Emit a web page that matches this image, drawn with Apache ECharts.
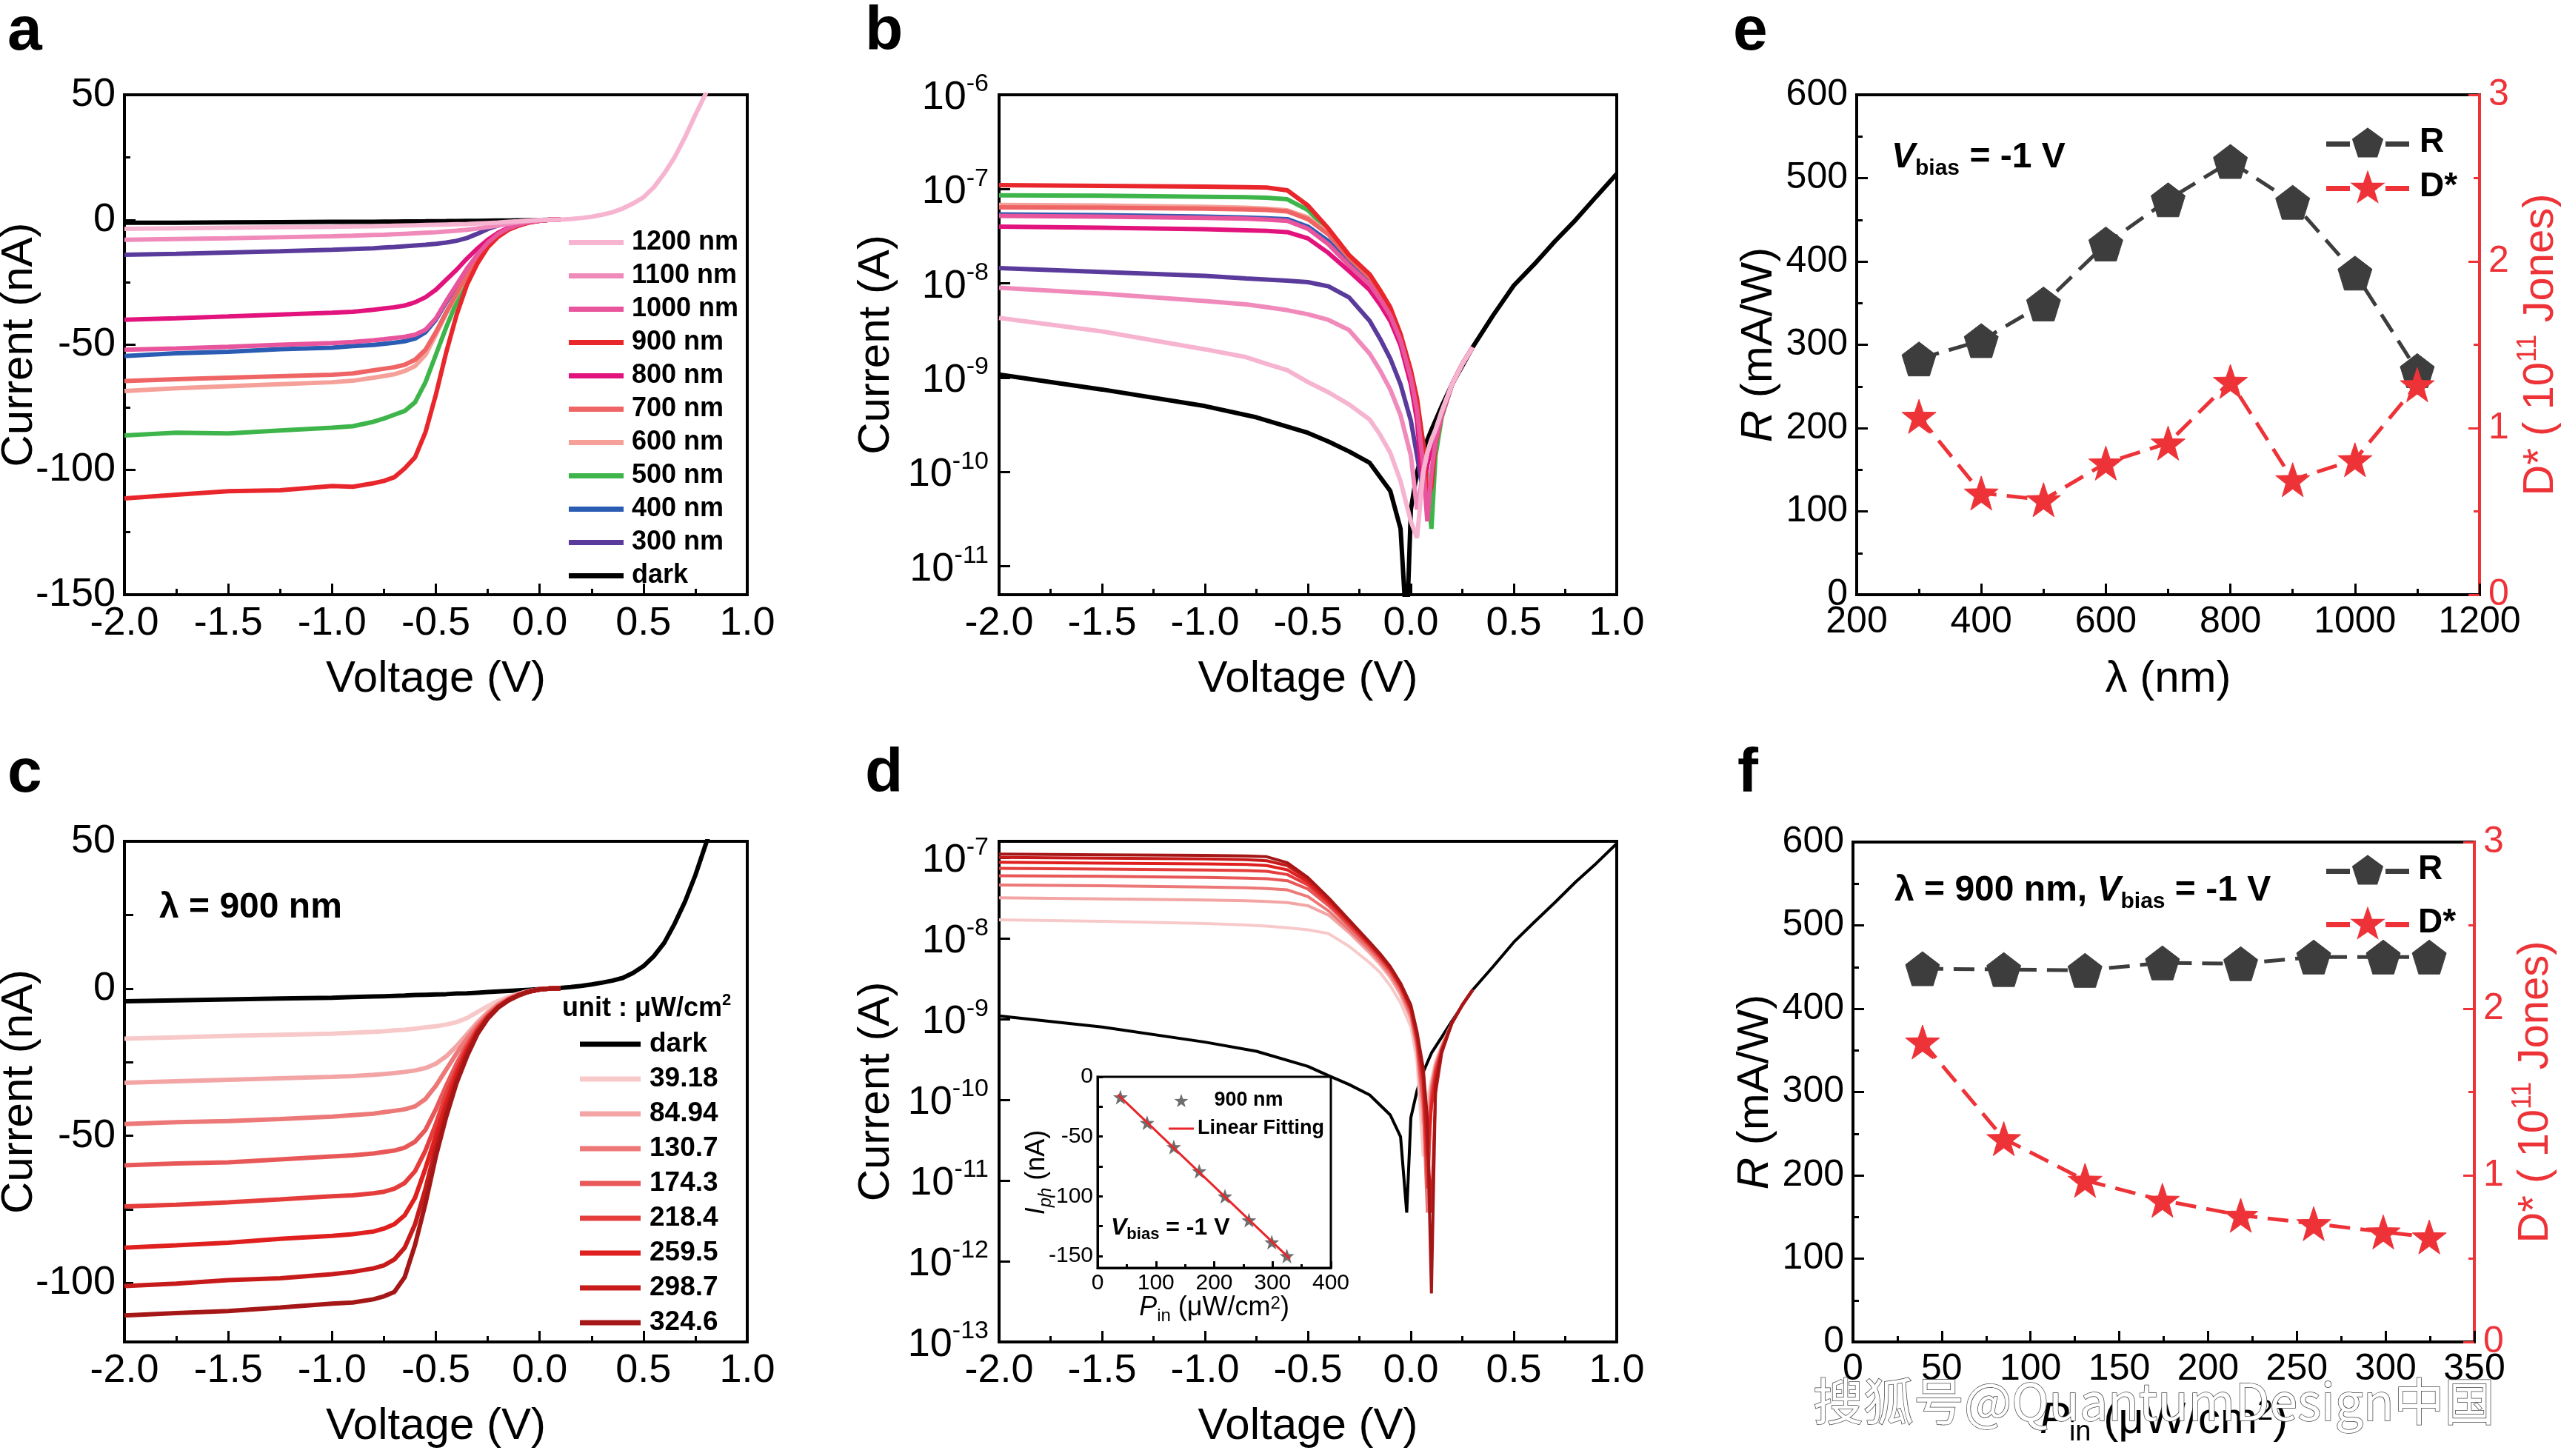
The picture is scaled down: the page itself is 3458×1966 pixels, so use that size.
<!DOCTYPE html>
<html>
<head>
<meta charset="utf-8">
<title>I-V curves, responsivity and detectivity</title>
<script src="https://cdn.jsdelivr.net/npm/echarts@6/dist/echarts.min.js"></script>
<style>
  html, body { margin: 0; padding: 0; background: #fff; }
  #main { width: 3458px; height: 1966px; }
</style>
</head>
<body>
<div id="main"></div>
<script>
// ---------- data ----------
// voltage grids (V)
const voltsA = [-2, -1.75, -1.5, -1.25, -1, -0.9, -0.8, -0.75, -0.7, -0.65, -0.6, -0.55, -0.5, -0.45, -0.4, -0.35, -0.3, -0.25, -0.2, -0.15, -0.1, -0.05, 0, 0.05, 0.1];
const voltsFwd = [0.15, 0.2, 0.25, 0.3, 0.35, 0.4, 0.45, 0.5, 0.55, 0.6, 0.65, 0.7, 0.75, 0.8, 0.83];
const voltsLog = [-2, -1.5, -1, -0.8, -0.7, -0.6, -0.5, -0.4, -0.3, -0.2, -0.15, -0.1, -0.05, 0, 0.03, 0.06, 0.08, 0.1, 0.12, 0.15, 0.2, 0.25, 0.3];
const voltsDark = [-2, -1.5, -1, -0.75, -0.5, -0.4, -0.3, -0.2, -0.1, -0.05, -0.02, 0, 0.03, 0.06, 0.1, 0.15, 0.2, 0.3, 0.4, 0.5, 0.6, 0.7, 0.8, 0.9, 1.0];

// panel a: current (nA) vs voltage, per wavelength
const aDark = [-1.2, -1.15, -1.05, -0.95, -0.85, -0.82, -0.78, -0.75, -0.72, -0.68, -0.65, -0.62, -0.58, -0.55, -0.5, -0.46, -0.42, -0.37, -0.32, -0.27, -0.21, -0.15, -0.1, 0, 0.1];
const a300 = [-14, -13.6, -13.1, -12.6, -12, -11.7, -11.4, -11.1, -10.9, -10.6, -10.3, -10, -9.6, -9.1, -8.4, -7.3, -5.6, -3.7, -2.3, -1.4, -0.8, -0.4, -0.2, 0, 0.1];
const a400 = [-54.5, -53.4, -52.8, -51.8, -51.2, -50.5, -50.1, -49.6, -49.2, -48.6, -47.5, -45, -40, -33, -26.5, -20, -14.5, -9.5, -5.9, -3.5, -2, -1, -0.4, 0, 0.1];
const a500 = [-86.3, -85.2, -85.5, -84.3, -83.2, -82.6, -80.8, -79.5, -78, -76.5, -73, -65, -54, -43, -33, -24, -16.5, -10.5, -6.5, -3.8, -2.2, -1, -0.4, 0, 0.1];
const a600 = [-68.5, -67.4, -66.6, -65.8, -65, -64.4, -63.2, -62.5, -61.8, -60.5, -58.5, -54, -46, -37.5, -30, -22.3, -15.7, -10.2, -6.3, -3.7, -2.1, -1, -0.4, 0, 0.1];
const a700 = [-64.5, -63.8, -63.2, -62.6, -62, -61.5, -60.2, -59.6, -59, -58, -56, -52, -45, -37, -29.5, -22, -15.5, -10, -6.2, -3.7, -2.1, -1, -0.4, 0, 0.1];
const a800 = [-40, -39.4, -38.7, -37.9, -37.2, -36.8, -36, -35.5, -35, -34.3, -33, -31, -28, -24, -20, -15.5, -11.5, -8, -5.2, -3.2, -1.9, -0.9, -0.35, 0, 0.1];
const a900 = [-111.5, -110, -108.6, -108.2, -106.5, -106.8, -105.4, -104.5, -103, -99.5, -95, -85, -70, -53, -38, -26, -17.5, -11, -6.8, -4, -2.3, -1.1, -0.4, 0, 0.1];
const a1000 = [-52, -51.5, -50.8, -50, -49.3, -48.9, -48.2, -47.8, -47.3, -46.8, -46, -44, -39.5, -32.5, -26, -19.5, -14, -9.2, -5.7, -3.4, -1.9, -0.9, -0.4, 0, 0.1];
const a1100 = [-8, -7.7, -7.4, -7, -6.6, -6.4, -6.1, -6, -5.8, -5.6, -5.4, -5.2, -5, -4.7, -4.4, -4, -3.5, -2.9, -2.3, -1.6, -1, -0.5, -0.2, 0, 0.1];
const a1200 = [-3.6, -3.4, -3.2, -3, -2.8, -2.7, -2.6, -2.5, -2.4, -2.3, -2.2, -2.1, -2, -1.9, -1.8, -1.7, -1.5, -1.3, -1.1, -0.8, -0.6, -0.3, -0.1, 0, 0.1];
const a1200Fwd = [0.3, 0.7, 1.2, 2, 3, 4.5, 6.5, 9, 13, 18.5, 25, 33, 42, 50.5, 55];

// panel b: |current| in nA on voltsLog (dark on voltsDark)
const bDark = [1.08, 0.75, 0.5, 0.38, 0.26, 0.21, 0.165, 0.125, 0.063, 0.025, 0.002, 0.04, 0.1, 0.17, 0.28, 0.5, 0.85, 2.1, 4.6, 9.5, 16, 28, 47, 83, 145];
const b300 = [14.5, 13.2, 12, 11.3, 11, 10.7, 10.3, 9.3, 7.1, 4, 2.6, 1.6, 0.85, 0.35, 0.15, 0.06, 0.12, 0.2, 0.26, 0.42, 0.85, 1.4, 2.1];
const b400 = [54, 53, 51, 50, 49, 48, 40, 28, 16.5, 10.3, 7.2, 4.8, 2.6, 1.05, 0.48, 0.15, 0.04, 0.06, 0.19, 0.4, 0.85, 1.4, 2.1];
const b500 = [86, 85, 83, 82, 81, 78, 60, 36, 19.5, 12, 8.2, 5.4, 2.8, 1.15, 0.55, 0.2, 0.08, 0.025, 0.15, 0.38, 0.85, 1.4, 2.1];
const b600 = [68, 67, 65, 63.5, 62, 59.5, 50, 34, 19, 11.7, 8, 5.3, 2.75, 1.12, 0.52, 0.18, 0.06, 0.08, 0.2, 0.4, 0.85, 1.4, 2.1];
const b700 = [64, 63.5, 62, 61, 60, 58, 48, 33, 18.5, 11.5, 7.9, 5.2, 2.7, 1.1, 0.5, 0.17, 0.05, 0.09, 0.2, 0.4, 0.85, 1.4, 2.1];
const b800 = [40, 39, 37.5, 36.5, 36, 35, 30, 21, 13.5, 8.5, 6, 4, 2.2, 0.85, 0.35, 0.06, 0.12, 0.18, 0.25, 0.42, 0.85, 1.4, 2.1];
const b900 = [110, 108, 106, 105, 104, 97, 67, 38, 20, 12.5, 8.5, 5.6, 2.9, 1.2, 0.6, 0.2, 0.05, 0.07, 0.2, 0.4, 0.85, 1.4, 2.1];
const b1000 = [52, 51, 49.5, 48.5, 47.5, 46, 38, 26, 15.5, 9.8, 6.9, 4.6, 2.5, 1, 0.45, 0.12, 0.03, 0.1, 0.21, 0.4, 0.85, 1.4, 2.1];
const b1100 = [9, 7.8, 6.5, 6, 5.6, 5.2, 4.7, 4.1, 3.2, 1.8, 1.2, 0.75, 0.4, 0.15, 0.04, 0.1, 0.16, 0.22, 0.28, 0.44, 0.85, 1.4, 2.1];
const b1200 = [4.3, 3.1, 2, 1.65, 1.4, 1.2, 0.9, 0.7, 0.52, 0.36, 0.25, 0.16, 0.08, 0.03, 0.02, 0.1, 0.16, 0.22, 0.28, 0.44, 0.85, 1.4, 2.1];

// panel c: current (nA) at 900 nm, per light power
const cDark = [-4.3, -4, -3.7, -3.4, -3.1, -2.9, -2.7, -2.6, -2.5, -2.4, -2.2, -2.1, -2, -1.9, -1.7, -1.6, -1.4, -1.2, -1, -0.8, -0.6, -0.4, -0.2, 0, 0.2];
const cDarkFwd = [0.5, 0.9, 1.4, 2, 2.7, 3.6, 5.3, 7.6, 11, 15.5, 22, 29.5, 38.5, 49, 55];
const c39 = [-17, -16.6, -16.1, -15.7, -15.3, -15, -14.7, -14.5, -14.2, -14, -13.6, -13.2, -12.8, -12.2, -11.4, -10, -8, -6, -4.2, -2.8, -1.7, -0.8, -0.3, 0, 0.1];
const c85 = [-32, -31.5, -31, -30.5, -30, -29.7, -29.3, -29, -28.7, -28.3, -27.8, -27, -25.5, -23, -19.5, -15.5, -11.5, -8, -5.2, -3.3, -1.9, -0.9, -0.3, 0, 0.1];
const c131 = [-46, -45.4, -45, -44.3, -43.5, -43, -42.5, -42, -41.5, -41, -40, -37.5, -33, -27.5, -22, -17, -12.5, -8.7, -5.6, -3.5, -2, -1, -0.3, 0, 0.1];
const c174 = [-60, -59.4, -59, -58, -57, -56.6, -56, -55.5, -55, -54, -52, -48, -41, -33, -25.5, -19, -13.5, -9.2, -6, -3.7, -2.1, -1, -0.3, 0, 0.1];
const c218 = [-74, -73.4, -72.6, -71.6, -70.5, -70.2, -69.5, -69, -68, -66, -62, -55, -46, -36, -27.5, -20, -14, -9.5, -6.2, -3.8, -2.2, -1, -0.3, 0, 0.1];
const c260 = [-88, -87.2, -86.3, -85, -84, -83.4, -82.5, -81.5, -80, -77, -71, -61, -50, -39, -29, -21, -14.5, -9.8, -6.3, -3.9, -2.2, -1, -0.3, 0, 0.1];
const c299 = [-101, -100.2, -99, -98.4, -97, -96.2, -95, -94, -92, -88, -80, -68, -54, -41.5, -31, -22, -15, -10, -6.4, -4, -2.2, -1, -0.3, 0, 0.1];
const c325 = [-111, -110.2, -109.5, -108.3, -107, -106.6, -105.5, -104.5, -103, -98, -87, -73, -57, -43.5, -32, -23, -15.5, -10.2, -6.5, -4, -2.3, -1, -0.3, 0, 0.1];

// panel d: |current| in nA on voltsLog (dark on voltsDark)
const dDark = [1.1, 0.8, 0.52, 0.4, 0.26, 0.2, 0.155, 0.115, 0.065, 0.035, 0.004, 0.06, 0.13, 0.22, 0.38, 0.6, 0.95, 2.3, 4.5, 9, 16, 28, 50, 85, 150];
const d39 = [17, 16.3, 15.3, 14.7, 14.2, 13.6, 12.8, 11.5, 8, 5, 3.8, 2.6, 1.6, 0.8, 0.3, 0.02, 0.1, 0.18, 0.3, 0.48, 0.9, 1.5, 2.3];
const d85 = [32, 31, 30, 29.3, 28.7, 27.8, 25.5, 19.5, 11.8, 6.6, 4.8, 3.3, 2, 1, 0.4, 0.05, 0.06, 0.16, 0.28, 0.46, 0.9, 1.5, 2.3];
const d131 = [46, 45, 43.5, 42.5, 41.5, 40, 33, 22, 12.8, 7.2, 5.2, 3.6, 2.2, 1.1, 0.45, 0.08, 0.004, 0.14, 0.26, 0.45, 0.9, 1.5, 2.3];
const d174 = [60, 59, 57, 56, 55, 52, 41, 25.5, 14.3, 7.8, 5.6, 3.9, 2.4, 1.2, 0.5, 0.1, 0.03, 0.12, 0.24, 0.43, 0.9, 1.5, 2.3];
const d218 = [74, 72.5, 70.5, 69.5, 68, 62, 46, 27.5, 15, 8.2, 5.9, 4.1, 2.5, 1.3, 0.55, 0.14, 0.008, 0.1, 0.22, 0.42, 0.9, 1.5, 2.3];
const d260 = [88, 86, 84, 82.5, 80, 71, 50, 29, 16, 8.5, 6.1, 4.2, 2.6, 1.35, 0.6, 0.18, 0.02, 0.08, 0.2, 0.4, 0.9, 1.5, 2.3];
const d299 = [101, 99, 97, 95, 92, 80, 54, 31, 16.5, 8.8, 6.3, 4.4, 2.7, 1.4, 0.65, 0.2, 0.03, 0.004, 0.12, 0.38, 0.9, 1.5, 2.3];
const d325 = [111, 109, 107, 105.5, 103, 87, 57, 32, 17, 9, 6.5, 4.5, 2.8, 1.5, 0.7, 0.25, 0.06, 0.0004, 0.15, 0.4, 0.9, 1.5, 2.3];

// panel e: responsivity (mA/W) and detectivity (1e11 Jones) vs wavelength
const wavelengths = [300, 400, 500, 600, 700, 800, 900, 1000, 1100];
const respE = [283, 305, 349, 421, 474, 520, 471, 386, 269];
const detE = [1.07, 0.61, 0.57, 0.79, 0.91, 1.28, 0.69, 0.81, 1.26];

// panel f: vs light power (uW/cm2)
const powers = [39.18, 84.94, 130.7, 174.3, 218.4, 259.5, 298.7, 324.6];
const respF = [448, 447, 446, 455, 454, 462, 462, 462];
const detF = [1.80, 1.22, 0.97, 0.85, 0.76, 0.71, 0.66, 0.63];

// inset of d: photocurrent (nA) vs power, plus the fitted line end points
const iphInset = [-17, -38.5, -58.7, -79, -100, -120, -138.5, -150];
const fitP = [35, 330];
const fitI = [-15, -152.5];

// ---------- styling ----------
const FONT = '"Liberation Sans", Arial, Helvetica, sans-serif';
const PENTAGON = 'path://M0,-1 L0.951,-0.309 L0.588,0.809 L-0.588,0.809 L-0.951,-0.309 Z';
const STAR = 'path://M0,-1 L0.235,-0.324 L0.951,-0.309 L0.380,0.124 L0.588,0.809 L0,0.4 L-0.588,0.809 L-0.380,0.124 L-0.951,-0.309 L-0.235,-0.324 Z';
// legend icons: dash, marker, dash (110 x 40 box)
const LEG_PENT = 'path://M0,17.5 L30,17.5 L30,22.5 L0,22.5 Z M80,17.5 L110,17.5 L110,22.5 L80,22.5 Z ' +
  'M55,-1 L74.97,13.51 L67.35,36.99 L42.65,36.99 L35.03,13.51 Z';
const LEG_STAR = 'path://M0,17.5 L30,17.5 L30,22.5 L0,22.5 Z M80,17.5 L110,17.5 L110,22.5 L80,22.5 Z ' +
  'M55,-2 L60.17,12.88 L75.92,13.2 L63.37,22.72 L67.94,37.8 L55,28.8 L42.06,37.8 L46.63,22.72 L34.08,13.2 L49.83,12.88 Z';
const LEG_LINE = 'path://M0,0 L34,0 L34,3 L0,3 Z';
const RED = '#ee3338';
const GREY = '#3d3d3d';

const wlSeries = [
  ['dark', '#000000', aDark, bDark],
  ['300 nm', '#5a3b9c', a300, b300],
  ['400 nm', '#2b5cb3', a400, b400],
  ['500 nm', '#3db54a', a500, b500],
  ['600 nm', '#f5a199', a600, b600],
  ['700 nm', '#ef6464', a700, b700],
  ['800 nm', '#e2137c', a800, b800],
  ['900 nm', '#e8262b', a900, b900],
  ['1000 nm', '#e8559c', a1000, b1000],
  ['1100 nm', '#f08abb', a1100, b1100],
  ['1200 nm', '#f6b4d1', a1200, b1200]
];
const powSeries = [
  ['dark', '#000000', cDark, dDark],
  ['39.18', '#f8c9c9', c39, d39],
  ['84.94', '#f3a5a5', c85, d85],
  ['130.7', '#ed7878', c131, d131],
  ['174.3', '#e95858', c174, d174],
  ['218.4', '#e53c3c', c218, d218],
  ['259.5', '#e01f1f', c260, d260],
  ['298.7', '#c71b1b', c299, d299],
  ['324.6', '#a51717', c325, d325]
];

function zip(xs, ys, k) {
  return xs.map((x, i) => [x, ys[i] * (k || 1)]);
}

function axLine(color) { return { show: true, onZero: false, lineStyle: { color: color || '#000', width: 4 } }; }
function axTick(color, len) { return { show: true, inside: true, length: len || 15, lineStyle: { color: color || '#000', width: 3 } }; }
function axMinor(color, len) { return { show: true, splitNumber: 2, length: len || 8, lineStyle: { color: color || '#000', width: 3 } }; }
function axLabel(size, color, extra) {
  return Object.assign({ color: color || '#000', fontSize: size, fontFamily: FONT, margin: 12 }, extra || {});
}
function nameStyle(size, color, rich) {
  return { fontSize: size, fontFamily: FONT, color: color || '#000', rich: rich || {} };
}
const fix1 = v => v.toFixed(1);
const plain = v => String(v);

// 10^n labels for the log axes
function powLabel(v) {
  const e = Math.log10(v);
  const r = Math.round(e);
  if (Math.abs(e - r) > 1e-6) return '';
  return '{b|10}{e|' + r + '}';
}
const powRich = {
  b: { fontSize: 54, fontFamily: FONT, color: '#000', verticalAlign: 'bottom', lineHeight: 62 },
  e: { fontSize: 34, fontFamily: FONT, color: '#000', verticalAlign: 'top', lineHeight: 62 }
};

// rich styles for "P_in (uW/cm2)" style names
function subSupRich(size, sub, drop) {
  return {
    i: { fontSize: size, fontStyle: 'italic', fontFamily: FONT, verticalAlign: 'top', lineHeight: size + 2 },
    s: { fontSize: sub, fontFamily: FONT, verticalAlign: 'bottom', lineHeight: size + 2 + drop },
    si: { fontSize: sub, fontStyle: 'italic', fontFamily: FONT, verticalAlign: 'bottom', lineHeight: size + 2 + drop },
    a: { fontSize: size, fontFamily: FONT, verticalAlign: 'top', lineHeight: size + 2 },
    p: { fontSize: sub, fontFamily: FONT, verticalAlign: 'top', lineHeight: size + 2 }
  };
}

function voltAxis(gi) {
  return {
    gridIndex: gi, type: 'value', min: -2, max: 1, interval: 0.5,
    axisLine: axLine(), axisTick: axTick(), minorTick: axMinor(), splitLine: { show: false },
    axisLabel: axLabel(54, '#000', { formatter: fix1 }),
    name: 'Voltage (V)', nameLocation: 'middle', nameGap: 84, nameMoveOverlap: false,
    nameTextStyle: nameStyle(60)
  };
}

const grids = [
  { left: 168, top: 128, width: 841, height: 675 },   // a
  { left: 1349, top: 128, width: 834, height: 675 },  // b
  { left: 168, top: 1136, width: 841, height: 676 },  // c
  { left: 1349, top: 1136, width: 834, height: 676 }, // d
  { left: 2507, top: 128, width: 841, height: 675 },  // e
  { left: 2502, top: 1137, width: 839, height: 675 }, // f
  { left: 1482, top: 1454, width: 315, height: 258 }  // inset
].map((g, i) => Object.assign(g, {
  show: true, borderColor: '#000', borderWidth: i === 6 ? 3 : 4,
  backgroundColor: 'transparent', containLabel: false, outerBoundsMode: 'none'
}));

const xAxes = [
  voltAxis(0), voltAxis(1), voltAxis(2), voltAxis(3),
  {
    gridIndex: 4, type: 'value', min: 200, max: 1200, interval: 200,
    axisLine: axLine(), axisTick: axTick(), minorTick: axMinor(), splitLine: { show: false },
    axisLabel: axLabel(50, '#000', { formatter: plain }),
    name: 'λ (nm)', nameLocation: 'middle', nameGap: 84, nameMoveOverlap: false, nameTextStyle: nameStyle(60)
  },
  {
    gridIndex: 5, type: 'value', min: 0, max: 350, interval: 50,
    axisLine: axLine(), axisTick: axTick(), minorTick: axMinor(), splitLine: { show: false },
    axisLabel: axLabel(50, '#000', { formatter: plain }),
    name: '{i|P}{s|in}{a| (μW/cm}{p|2}{a|)}', nameLocation: 'middle', nameGap: 76, nameMoveOverlap: false,
    nameTextStyle: nameStyle(60, '#000', subSupRich(60, 38, 4))
  },
  {
    gridIndex: 6, type: 'value', min: 0, max: 400, interval: 100,
    axisLine: { show: true, onZero: false, lineStyle: { color: '#000', width: 3 } },
    axisTick: axTick('#000', 9), minorTick: axMinor('#000', 5), splitLine: { show: false },
    axisLabel: axLabel(30, '#000', { margin: 6, formatter: plain }),
    name: '{i|P}{s|in}{a| (μW/cm}{p|2}{a|)}', nameLocation: 'middle', nameGap: 36, nameMoveOverlap: false,
    nameTextStyle: nameStyle(36, '#000', subSupRich(36, 24, 3))
  }
];

const yAxes = [
  {
    gridIndex: 0, type: 'value', min: -150, max: 50, interval: 50,
    axisLine: axLine(), axisTick: axTick(), minorTick: axMinor(), splitLine: { show: false },
    axisLabel: axLabel(54),
    name: 'Current (nA)', nameLocation: 'middle', nameRotate: 90, nameGap: 112, nameMoveOverlap: false,
    nameTextStyle: nameStyle(60)
  },
  {
    gridIndex: 1, type: 'log', logBase: 10, min: 5e-12, max: 1e-6,
    axisLine: axLine(), axisTick: axTick(), minorTick: { show: false }, splitLine: { show: false },
    axisLabel: axLabel(54, '#000', { formatter: powLabel, rich: powRich, margin: 14 }),
    name: 'Current (A)', nameLocation: 'middle', nameRotate: 90, nameGap: 136, nameMoveOverlap: false,
    nameTextStyle: nameStyle(60)
  },
  {
    gridIndex: 2, type: 'value', min: -120, max: 50,
    axisLine: axLine(), splitLine: { show: false },
    axisTick: Object.assign(axTick('#000', 12), { customValues: [-100, -75, -50, -25, 0, 25, 50] }),
    axisLabel: axLabel(54, '#000', { customValues: [-100, -50, 0, 50] }),
    name: 'Current (nA)', nameLocation: 'middle', nameRotate: 90, nameGap: 112, nameMoveOverlap: false,
    nameTextStyle: nameStyle(60)
  },
  {
    gridIndex: 3, type: 'log', logBase: 10, min: 1e-13, max: 1.6e-7,
    axisLine: axLine(), axisTick: axTick(), minorTick: { show: false }, splitLine: { show: false },
    axisLabel: axLabel(54, '#000', { formatter: powLabel, rich: powRich, margin: 14 }),
    name: 'Current (A)', nameLocation: 'middle', nameRotate: 90, nameGap: 136, nameMoveOverlap: false,
    nameTextStyle: nameStyle(60)
  },
  {
    gridIndex: 4, type: 'value', min: 0, max: 600, interval: 100, position: 'left',
    axisLine: axLine(), axisTick: axTick(), minorTick: axMinor(), splitLine: { show: false },
    axisLabel: axLabel(50),
    name: '{i|R}{a| (mA/W)}', nameLocation: 'middle', nameRotate: 90, nameGap: 100, nameMoveOverlap: false,
    nameTextStyle: nameStyle(60, '#000', subSupRich(60, 38, 8))
  },
  {
    gridIndex: 4, type: 'value', min: 0, max: 3, interval: 1, position: 'right',
    axisLine: axLine(RED), axisTick: axTick(RED), minorTick: axMinor(RED), splitLine: { show: false },
    axisLabel: axLabel(50, RED),
    name: '{a|D* ( 10}{p|11}{a| Jones)}', nameLocation: 'middle', nameRotate: 90, nameGap: 48, nameMoveOverlap: false,
    nameTextStyle: nameStyle(58, RED, {
      a: { fontSize: 58, fontFamily: FONT, color: RED, verticalAlign: 'bottom', lineHeight: 64 },
      p: { fontSize: 36, fontFamily: FONT, color: RED, verticalAlign: 'top', lineHeight: 64 }
    })
  },
  {
    gridIndex: 5, type: 'value', min: 0, max: 600, interval: 100, position: 'left',
    axisLine: axLine(), axisTick: axTick(), minorTick: axMinor(), splitLine: { show: false },
    axisLabel: axLabel(50),
    name: '{i|R}{a| (mA/W)}', nameLocation: 'middle', nameRotate: 90, nameGap: 100, nameMoveOverlap: false,
    nameTextStyle: nameStyle(60, '#000', subSupRich(60, 38, 8))
  },
  {
    gridIndex: 5, type: 'value', min: 0, max: 3, interval: 1, position: 'right',
    axisLine: axLine(RED), axisTick: axTick(RED), minorTick: axMinor(RED), splitLine: { show: false },
    axisLabel: axLabel(50, RED),
    name: '{a|D* ( 10}{p|11}{a| Jones)}', nameLocation: 'middle', nameRotate: 90, nameGap: 48, nameMoveOverlap: false,
    nameTextStyle: nameStyle(58, RED, {
      a: { fontSize: 58, fontFamily: FONT, color: RED, verticalAlign: 'bottom', lineHeight: 64 },
      p: { fontSize: 36, fontFamily: FONT, color: RED, verticalAlign: 'top', lineHeight: 64 }
    })
  },
  {
    gridIndex: 6, type: 'value', min: -160, max: 0,
    axisLine: { show: true, onZero: false, lineStyle: { color: '#000', width: 3 } }, splitLine: { show: false },
    axisTick: Object.assign(axTick('#000', 7), { customValues: [-150, -125, -100, -75, -50, -25, 0] }),
    axisLabel: axLabel(30, '#000', { margin: 6, customValues: [-150, -100, -50, 0] }),
    name: '{i|I}{si|ph}{a| (nA)}', nameLocation: 'middle', nameRotate: 90, nameGap: 58, nameMoveOverlap: false,
    nameTextStyle: nameStyle(36, '#000', subSupRich(36, 24, 4))
  }
];

// ---------- series ----------
const series = [];
wlSeries.forEach((s, i) => {
  const [name, color, aVals, bVals] = s;
  const aData = name === '1200 nm' ? zip(voltsA.concat(voltsFwd), aVals.concat(a1200Fwd)) : zip(voltsA, aVals);
  series.push({
    type: 'line', name, xAxisIndex: 0, yAxisIndex: 0, data: aData, symbol: 'none', z: 2 + i,
    lineStyle: { color, width: 6 }, itemStyle: { color }
  });
  const bData = name === 'dark' ? zip(voltsDark, bVals, 1e-9) : zip(voltsLog, bVals, 1e-9);
  series.push({
    type: 'line', name, xAxisIndex: 1, yAxisIndex: 1, data: bData, symbol: 'none', z: 2 + i,
    lineStyle: { color, width: 6 }, itemStyle: { color }
  });
});
powSeries.forEach((s, i) => {
  const [name, color, cVals, dVals] = s;
  const cData = name === 'dark' ? zip(voltsA.concat(voltsFwd), cVals.concat(cDarkFwd)) : zip(voltsA, cVals);
  series.push({
    type: 'line', name, xAxisIndex: 2, yAxisIndex: 2, data: cData, symbol: 'none', z: 2 + i,
    lineStyle: { color, width: 6 }, itemStyle: { color }
  });
  const dData = name === 'dark' ? zip(voltsDark, dVals, 1e-9) : zip(voltsLog, dVals, 1e-9);
  series.push({
    type: 'line', name, xAxisIndex: 3, yAxisIndex: 3, data: dData, symbol: 'none', z: 2 + i,
    lineStyle: { color, width: 4 }, itemStyle: { color }
  });
});

function markerSeries(name, xi, yi, xs, ys, symbol, size, color) {
  return {
    type: 'line', name, xAxisIndex: xi, yAxisIndex: yi, data: zip(xs, ys),
    symbol, symbolSize: size, showSymbol: true, z: 5,
    lineStyle: { color, width: 5, type: [28, 14] },
    itemStyle: { color, borderColor: color, borderWidth: 1 }
  };
}
series.push(markerSeries('R', 4, 4, wavelengths, respE, PENTAGON, 46, GREY));
series.push(markerSeries('D*', 4, 5, wavelengths, detE, STAR, 46, RED));
series.push(markerSeries('R', 5, 6, powers, respF, PENTAGON, 46, GREY));
series.push(markerSeries('D*', 5, 7, powers, detF, STAR, 46, RED));

series.push({
  type: 'scatter', name: 'inset900', xAxisIndex: 6, yAxisIndex: 8, data: zip(powers, iphInset),
  symbol: STAR, symbolSize: 20, itemStyle: { color: '#4a4a4a' }, z: 6
});
series.push({
  type: 'line', name: 'Linear Fitting', xAxisIndex: 6, yAxisIndex: 8, data: zip(fitP, fitI),
  symbol: 'none', lineStyle: { color: '#e8262b', width: 3 }, itemStyle: { color: '#e8262b' }, z: 7
});

// ---------- legends ----------
const legendText = (size) => ({ fontSize: size, fontWeight: 'bold', fontFamily: FONT, color: '#000', lineHeight: size + 1 });
const legends = [
  {
    data: wlSeries.map(s => s[0]).reverse(), orient: 'vertical', left: 763, top: 304,
    icon: 'rect', itemWidth: 74, itemHeight: 7, itemGap: 8, selectedMode: false,
    textStyle: Object.assign(legendText(36), { padding: [0, 0, 0, 6] })
  },
  {
    data: powSeries.map(s => s[0]), orient: 'vertical', left: 778, top: 1386,
    icon: 'rect', itemWidth: 82, itemHeight: 7, itemGap: 9, selectedMode: false,
    textStyle: Object.assign(legendText(37), { padding: [0, 0, 0, 7] })
  },
  {
    data: [{ name: 'R', icon: LEG_PENT }, { name: 'D*', icon: LEG_STAR }], orient: 'vertical', left: 3136, top: 164,
    itemWidth: 110, itemHeight: 40, itemGap: 13, selectedMode: false,
    textStyle: Object.assign(legendText(46), { padding: [0, 0, 0, 10] })
  },
  {
    data: [{ name: 'R', icon: LEG_PENT }, { name: 'D*', icon: LEG_STAR }], orient: 'vertical', left: 3136, top: 1146,
    itemWidth: 110, itemHeight: 40, itemGap: 25, selectedMode: false,
    textStyle: Object.assign(legendText(46), { padding: [0, 0, 0, 8] })
  },
  {
    data: ['inset900', { name: 'Linear Fitting', icon: LEG_LINE }], orient: 'vertical', left: 1573, top: 1467,
    itemWidth: 34, itemHeight: 18, itemGap: 10, selectedMode: false,
    formatter: n => n === 'inset900' ? '   900 nm' : n,
    textStyle: legendText(27)
  }
];

// ---------- annotations ----------
function biasRich(size, sub) {
  const base = { fontSize: size, fontWeight: 'bold', fontFamily: FONT, fill: '#000', verticalAlign: 'top', lineHeight: size };
  return {
    t: base,
    v: Object.assign({}, base, { fontStyle: 'italic' }),
    s: { fontSize: sub, fontWeight: 'bold', fontFamily: FONT, fill: '#000', verticalAlign: 'bottom', lineHeight: size + sub * 0.2 }
  };
}
function txt(x, y, text, font, extra) {
  return {
    type: 'text', x, y, z: 100,
    style: Object.assign({ text, font, fill: '#000', align: 'left', verticalAlign: 'middle' }, extra || {})
  };
}
const letterFont = 'bold 84px ' + FONT;
const graphics = [
  txt(10, 44, 'a', letterFont), txt(1168, 44, 'b', letterFont), txt(2340, 44, 'e', letterFont),
  txt(10, 1046, 'c', letterFont), txt(1168, 1046, 'd', letterFont), txt(2346, 1046, 'f', letterFont),
  txt(2554, 216, '{v|V}{s|bias}{t| = -1 V}', '', { rich: biasRich(48, 30) }),
  txt(2558, 1206, '{t|λ = 900 nm, }{v|V}{s|bias}{t| = -1 V}', '', { rich: biasRich(48, 30) }),
  txt(215, 1226, 'λ = 900 nm', 'bold 48px ' + FONT),
  txt(759, 1360, '{t|unit : μW/cm}{p|2}', '', {
    rich: {
      t: { fontSize: 36, fontWeight: 'bold', fontFamily: FONT, fill: '#000', verticalAlign: 'bottom', lineHeight: 40 },
      p: { fontSize: 22, fontWeight: 'bold', fontFamily: FONT, fill: '#000', verticalAlign: 'top', lineHeight: 40 }
    }
  }),
  txt(1500, 1660, '{v|V}{s|bias}{t| = -1 V}', '', { rich: biasRich(32, 22) }),
  {
    type: 'text', x: 2448, y: 1892, z: 200,
    style: {
      text: '搜狐号@QuantumDesign中国', font: '68px "Noto Sans CJK SC", sans-serif',
      fill: '#ffffff', stroke: '#444', lineWidth: 1.5, align: 'left', verticalAlign: 'middle'
    }
  }
];

const chart = echarts.init(document.getElementById('main'), null, { renderer: 'canvas' });
chart.setOption({
  animation: false,
  backgroundColor: '#ffffff',
  textStyle: { fontFamily: FONT },
  grid: grids,
  xAxis: xAxes,
  yAxis: yAxes,
  legend: legends,
  series: series,
  graphic: graphics
});
</script>
</body>
</html>
